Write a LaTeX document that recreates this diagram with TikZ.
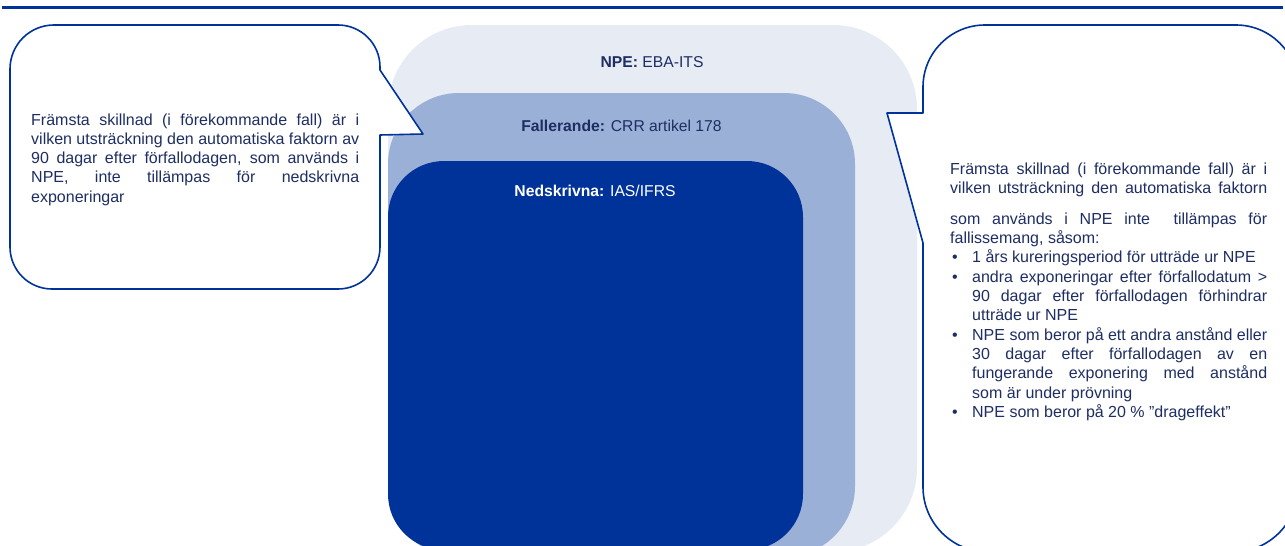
\documentclass[tikz,border=0pt]{standalone}
\usepackage{fontspec}
\setmainfont{Liberation Sans}
\definecolor{brandblue}{HTML}{003399}
\definecolor{midblue}{HTML}{9BB0D6}
\definecolor{paleblue}{HTML}{E6EBF4}
\definecolor{textnavy}{HTML}{1E2E63}
\hbadness=10000
\vbadness=10000
% bullet line with hanging indent
\newcommand\bulletline[1]{\par\hangindent=22pt\hangafter=1\noindent\makebox[22pt][l]{\hspace{2pt}\textbullet}#1\par}
\begin{document}
\begin{tikzpicture}[x=1pt,y=-1pt,
  layerbox/.style={rectangle, anchor=north west, inner sep=0pt, outer sep=0pt, draw=none},
  callout/.style={draw=brandblue, line width=1.6pt, fill=white, line join=round},
  layerlabel/.style={font=\fontsize{15.7pt}{18pt}\selectfont, anchor=base, inner sep=0pt},
  bodytext/.style={font=\fontsize{16pt}{19.3pt}\selectfont, text=textnavy, align=justify, inner sep=0pt, anchor=base west}]
\useasboundingbox (0,0) rectangle (1285,546);
\clip (0,0) rectangle (1285,546);

% rule across the top
\draw[brandblue, line width=2.5pt] (2,7.5) -- (1283,7.5);

% nested definitions
\node[layerbox, fill=paleblue, rounded corners=84pt, minimum width=529pt, minimum height=527pt] (npe) at (388,25) {};
\node[layerbox, fill=midblue, rounded corners=71pt, minimum width=467pt, minimum height=464pt] (fall) at (388,93) {};
\node[layerbox, fill=brandblue, rounded corners=56pt, minimum width=415pt, minimum height=389pt] (ned) at (388,161) {};

\node[layerlabel, text=textnavy] (npelabel) at (652,67) {\textbf{NPE:} EBA-ITS};
\node[layerlabel, text=textnavy] (falllabel) at (621.5,131) {\textbf{Fallerande:} CRR artikel 178};
\node[layerlabel, text=white] (nedlabel) at (595,196) {\textbf{Nedskrivna:} IAS/IFRS};

% left speech bubble
\draw[callout] (54,25) -- (338,25) arc[start angle=270, end angle=360, radius=42]
  -- (380,70) -- (423,134) -- (380,135) -- (380,247)
  arc[start angle=0, end angle=90, radius=42] -- (52,289)
  arc[start angle=90, end angle=180, radius=42] -- (10,69)
  arc[start angle=180, end angle=270, radius=44] -- cycle;

% right speech bubble
\draw[callout] (985,25) -- (1236,25) arc[start angle=270, end angle=360, radius=62]
  -- (1298,487) arc[start angle=0, end angle=90, radius=65] -- (988,552)
  arc[start angle=90, end angle=180, radius=65] -- (923,243) -- (887,113)
  -- (923,113) -- (923,87) arc[start angle=180, end angle=270, radius=62] -- cycle;

\node[bodytext, text width=328pt] (lefttext) at (31,125) {%
Främsta skillnad (i förekommande fall) är i\linebreak
vilken utsträckning den automatiska faktorn av\linebreak
90 dagar efter förfallodagen, som används i\linebreak
NPE, inte tillämpas för nedskrivna\linebreak
exponeringar};

\node[bodytext, text width=317pt] (righttext) at (950,174) {%
Främsta skillnad (i förekommande fall) är i\linebreak
vilken utsträckning den automatiska faktorn{\parfillskip=0pt\par}
\vspace{11.7pt}
som används i NPE inte\ \ tillämpas för\linebreak
fallissemang, såsom:\par
\bulletline{1 års kureringsperiod för utträde ur NPE}
\bulletline{andra exponeringar efter förfallodatum >\linebreak
90 dagar efter förfallodagen förhindrar\linebreak utträde ur NPE}
\bulletline{NPE som beror på ett andra anstånd eller\linebreak
30 dagar efter förfallodagen av en\linebreak
fungerande exponering med anstånd\linebreak som är under prövning}
\bulletline{NPE som beror på 20 \% ”drageffekt”}};
\end{tikzpicture}
\end{document}
